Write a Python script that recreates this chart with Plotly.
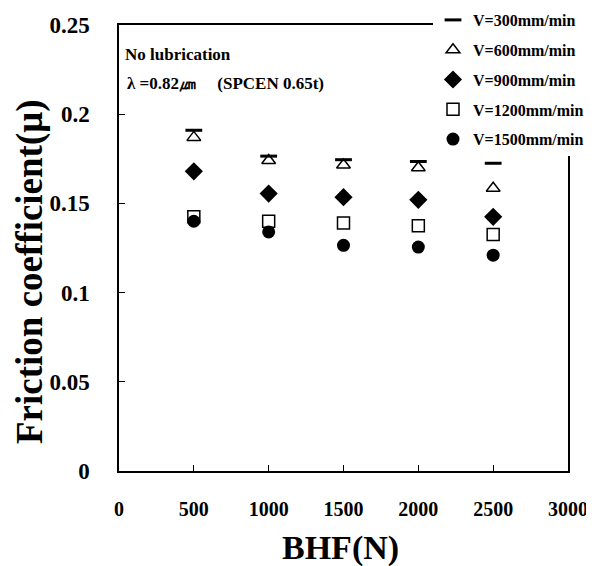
import plotly.graph_objects as go

bhf = [500, 1000, 1500, 2000, 2500]
v300 = [0.191, 0.1765, 0.1745, 0.1735, 0.1725]
v600 = [0.187, 0.174, 0.1715, 0.170, 0.1585]
v900 = [0.168, 0.1555, 0.1535, 0.152, 0.1425]
v1200 = [0.1425, 0.140, 0.139, 0.1375, 0.1325]
v1500 = [0.140, 0.134, 0.1265, 0.1255, 0.121]

series_names = ["V=300mm/min", "V=600mm/min", "V=900mm/min", "V=1200mm/min", "V=1500mm/min"]
x_ticks = [0, 500, 1000, 1500, 2000, 2500, 3000]
y_ticks = [0, 0.05, 0.1, 0.15, 0.2, 0.25]
y_ticklabels = ["0", "0.05", "0.1", "0.15", "0.2", "0.25"]

FONT = "Liberation Serif"

styles = [
    dict(symbol="line-ew", size=12, color="black", line=dict(width=3, color="black")),
    dict(symbol="triangle-up-open", size=12, color="black", line=dict(width=1.5, color="black")),
    dict(symbol="diamond", size=14, color="black", line=dict(width=0)),
    dict(symbol="square-open", size=12, color="black", line=dict(width=1.5, color="black")),
    dict(symbol="circle", size=13, color="black", line=dict(width=0)),
]

# page body has an 8px margin; work in figure coordinates (screen - 8)
OFF = 8
FW, FH = 594 - OFF, 566 - OFF
L, R, T, B = 119 - OFF, 568 - OFF, 25 - OFF, 471 - OFF
W, H = R - L, B - T


def px(xs):
    return (xs - OFF - L) / W


def py(ys):
    return (B - (ys - OFF)) / H


fig = go.Figure()
for i, (name, vals) in enumerate(zip(series_names, [v300, v600, v900, v1200, v1500])):
    fig.add_trace(go.Scatter(
        x=bhf, y=vals, mode="markers", name=name,
        legendgroup=f"g{i}", marker=styles[i], cliponaxis=False,
    ))

fig.update_layout(
    width=FW, height=FH,
    margin=dict(l=L, r=FW - R, t=T, b=FH - B, autoexpand=False),
    paper_bgcolor="white", plot_bgcolor="white",
    font=dict(family=FONT, color="black"),
    showlegend=True,
    legend=dict(
        x=px(433), y=py(3), xanchor="left", yanchor="top",
        bgcolor="white", borderwidth=0,
        font=dict(family=FONT, size=16, weight="bold", color="black"),
        tracegroupgap=6, itemwidth=30,
    ),
    xaxis=dict(
        range=[0, 3000], tickvals=x_ticks, ticktext=[str(v) for v in x_ticks],
        showline=True, linecolor="black", linewidth=1.5, mirror=True,
        ticks="inside", ticklen=6, tickcolor="black", tickwidth=1,
        showgrid=False, zeroline=False,
        tickfont=dict(family=FONT, size=20, weight="bold"),
        ticklabelstandoff=19,
    ),
    yaxis=dict(
        range=[0, 0.25], tickvals=y_ticks, ticktext=y_ticklabels,
        showline=True, linecolor="black", linewidth=1.5, mirror=True,
        ticks="inside", ticklen=6, tickcolor="black", tickwidth=1,
        showgrid=False, zeroline=False,
        tickfont=dict(family=FONT, size=23, weight="bold"),
        ticklabelstandoff=23,
    ),
    annotations=[
        dict(text="BHF(N)", xref="paper", yref="paper",
             x=px(340), y=py(548), xanchor="center", yanchor="middle",
             showarrow=False, font=dict(family=FONT, size=34, weight="bold")),
        dict(text="Friction coefficient(μ)", xref="paper", yref="paper", textangle=-90,
             x=px(30), y=py(272), xanchor="center", yanchor="middle",
             showarrow=False, font=dict(family=FONT, size=37, weight="bold")),
        dict(text="No lubrication", xref="paper", yref="paper",
             x=px(123), y=py(55), xanchor="left", yanchor="middle",
             showarrow=False, font=dict(family=FONT, size=17, weight="bold")),
        dict(text="λ =0.82㎛     (SPCEN 0.65t)", xref="paper", yref="paper",
             x=px(125), y=py(83), xanchor="left", yanchor="middle",
             showarrow=False, font=dict(family=FONT, size=17, weight="bold")),
    ],
)

fig.write_html("out.html")
